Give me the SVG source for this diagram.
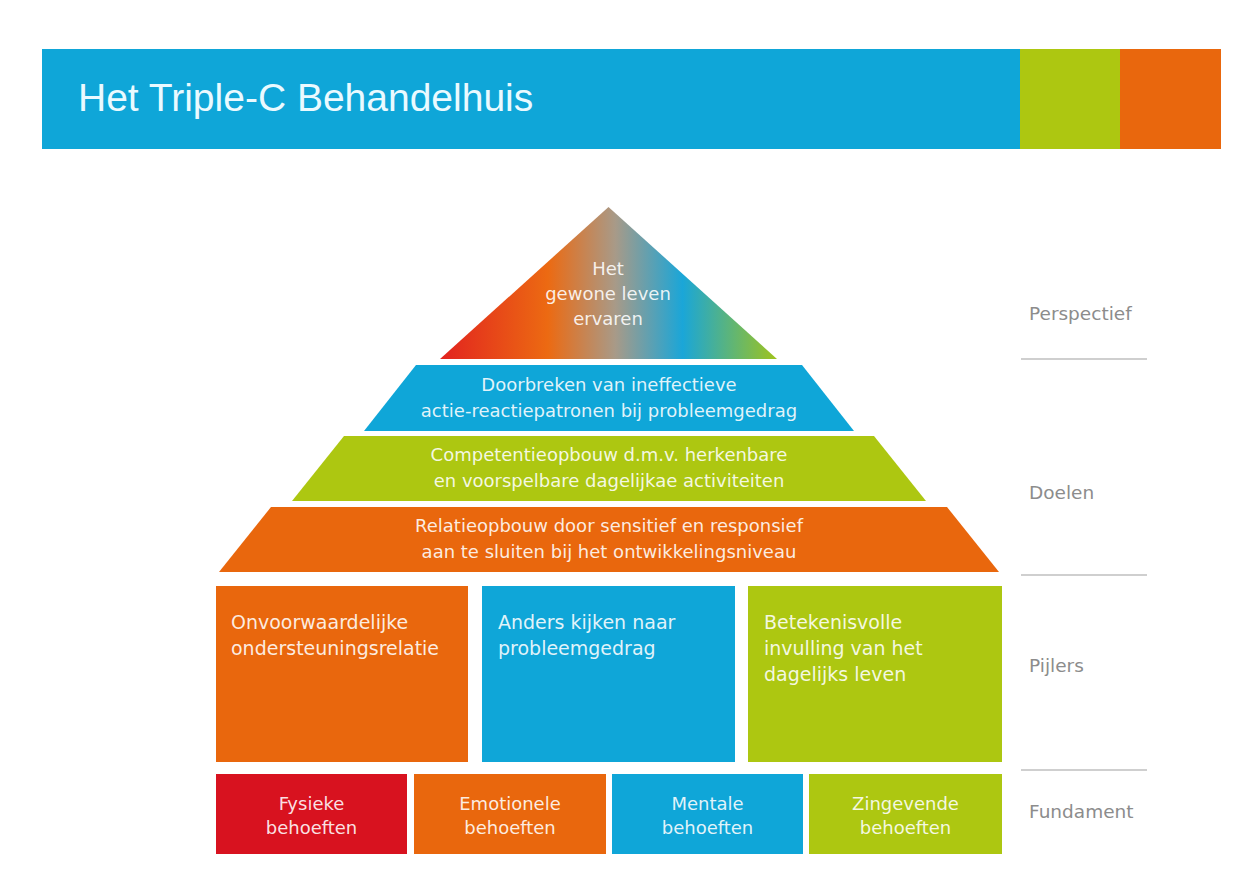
<svg xmlns="http://www.w3.org/2000/svg" width="1240" height="884" viewBox="0 0 1240 884">
<defs>
<linearGradient id="roofGrad" x1="440" y1="0" x2="777" y2="0" gradientUnits="userSpaceOnUse">
<stop offset="0" stop-color="#e2231f"/>
<stop offset="0.32" stop-color="#ec6a12"/>
<stop offset="0.52" stop-color="#a89a88"/>
<stop offset="0.72" stop-color="#1aa6d8"/>
<stop offset="1" stop-color="#9fc31c"/>
</linearGradient>
<style>
.blue{fill:#0fa6d8}
.green{fill:#adc711}
.orange{fill:#e9670d}
.red{fill:#d8121f}
.t{font-family:"DejaVu Sans","Liberation Sans",sans-serif;fill:#ffffff;fill-opacity:0.88}
.c{text-anchor:middle}
.tr{font-size:18px}
.pl{font-size:19px}
.fd{font-size:18px}
.lbl{font-family:"DejaVu Sans","Liberation Sans",sans-serif;font-size:18.5px;fill:#8c8c8c}
.sep{stroke:#cfcfcf;stroke-width:2;fill:none}
</style>
</defs>
<rect width="1240" height="884" fill="#ffffff"/>

<g id="header">
<rect x="42" y="49" width="978" height="100" class="blue"/>
<rect x="1020" y="49" width="100" height="100" class="green"/>
<rect x="1120" y="49" width="101" height="100" class="orange"/>
<text x="78" y="111" font-family="Liberation Sans, Arial, sans-serif" font-size="39" fill="#eafaff">Het Triple-C Behandelhuis</text>
</g>

<g id="roof">
<polygon points="608.5,207 777,359 440,359" fill="url(#roofGrad)"/>
<text class="t c tr" x="608" y="275">Het</text>
<text class="t c tr" x="608" y="300">gewone leven</text>
<text class="t c tr" x="608" y="325">ervaren</text>
</g>

<g id="doel-doorbreken">
<polygon points="416,365 802,365 854,431 364,431" class="blue"/>
<text class="t c tr" x="609" y="391">Doorbreken van ineffectieve</text>
<text class="t c tr" x="609" y="417">actie-reactiepatronen bij probleemgedrag</text>
</g>

<g id="doel-competentie">
<polygon points="344,436 874,436 926,501 292,501" class="green"/>
<text class="t c tr" x="609" y="461">Competentieopbouw d.m.v. herkenbare</text>
<text class="t c tr" x="609" y="487">en voorspelbare dagelijkae activiteiten</text>
</g>

<g id="doel-relatie">
<polygon points="271,507 947,507 999,572 219,572" class="orange"/>
<text class="t c tr" x="609" y="532">Relatieopbouw door sensitief en responsief</text>
<text class="t c tr" x="609" y="558">aan te sluiten bij het ontwikkelingsniveau</text>
</g>

<g id="pijler-onvoorwaardelijk">
<rect x="216" y="586" width="252" height="176" class="orange"/>
<text class="t pl" x="231" y="629">Onvoorwaardelijke</text>
<text class="t pl" x="231" y="655">ondersteuningsrelatie</text>
</g>

<g id="pijler-anders-kijken">
<rect x="482" y="586" width="253" height="176" class="blue"/>
<text class="t pl" x="498" y="629">Anders kijken naar</text>
<text class="t pl" x="498" y="655">probleemgedrag</text>
</g>

<g id="pijler-betekenisvol">
<rect x="748" y="586" width="254" height="176" class="green"/>
<text class="t pl" x="764" y="629">Betekenisvolle</text>
<text class="t pl" x="764" y="655">invulling van het</text>
<text class="t pl" x="764" y="681">dagelijks leven</text>
</g>

<g id="fundament-fysiek">
<rect x="216" y="774" width="191" height="80" class="red"/>
<text class="t c fd" x="311.5" y="810">Fysieke</text>
<text class="t c fd" x="311.5" y="834">behoeften</text>
</g>

<g id="fundament-emotioneel">
<rect x="414" y="774" width="192" height="80" class="orange"/>
<text class="t c fd" x="510" y="810">Emotionele</text>
<text class="t c fd" x="510" y="834">behoeften</text>
</g>

<g id="fundament-mentaal">
<rect x="612" y="774" width="191" height="80" class="blue"/>
<text class="t c fd" x="707.5" y="810">Mentale</text>
<text class="t c fd" x="707.5" y="834">behoeften</text>
</g>

<g id="fundament-zingevend">
<rect x="809" y="774" width="193" height="80" class="green"/>
<text class="t c fd" x="905.5" y="810">Zingevende</text>
<text class="t c fd" x="905.5" y="834">behoeften</text>
</g>

<g id="labels">
<text class="lbl" x="1029" y="320">Perspectief</text>
<text class="lbl" x="1029" y="499">Doelen</text>
<text class="lbl" x="1029" y="672">Pijlers</text>
<text class="lbl" x="1029" y="818">Fundament</text>
</g>

<g id="connectors">
<line class="sep" x1="1021" y1="359" x2="1147" y2="359"/>
<line class="sep" x1="1021" y1="575" x2="1147" y2="575"/>
<line class="sep" x1="1021" y1="770" x2="1147" y2="770"/>
</g>
</svg>
